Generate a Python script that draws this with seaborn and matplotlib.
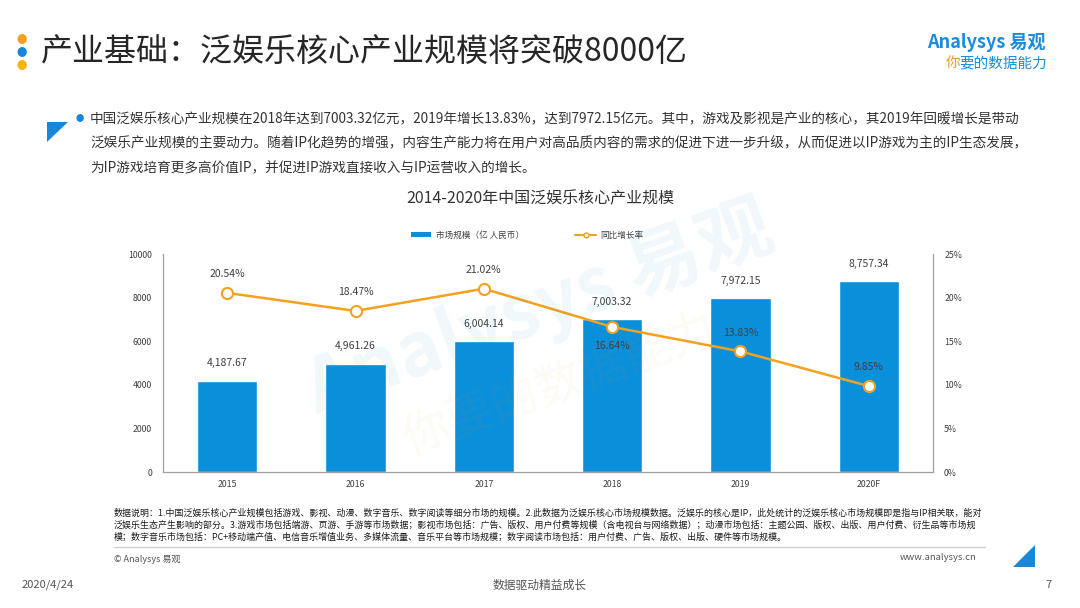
import matplotlib
matplotlib.use("Agg")
import matplotlib.pyplot as plt
import seaborn as sns
import pandas as pd
from matplotlib.patches import Polygon, Patch
from matplotlib.lines import Line2D

years = ['2015', '2016', '2017', '2018', '2019', '2020F']
market = [4187.67, 4961.26, 6004.14, 7003.32, 7972.15, 8757.34]
growth = [20.54, 18.47, 21.02, 16.64, 13.83, 9.85]
growth_label_below = [False, False, False, True, False, False]
left_ticks = [0, 2000, 4000, 6000, 8000, 10000]
right_ticks = [0, 5, 10, 15, 20, 25]

BLUE = '#0A8FDA'
ORANGE = '#F5A01E'
TXT = '#404040'

sns.set_theme(style='white')
plt.rcParams['font.family'] = ['Noto Sans CJK SC', 'DejaVu Sans']

df = pd.DataFrame({'year': years, 'market': market, 'growth': growth})

fig = plt.figure(figsize=(10.8, 6.08), dpi=100)
W, H = 1080, 608

def fx(x):
    return x / W

def fy(y):
    return 1 - y / H

ax = fig.add_axes([fx(163), fy(472), fx(933 - 163), (472 - 254) / H])
sns.barplot(data=df, x='year', y='market', color=BLUE, width=0.47,
            saturation=1, ax=ax)
ax.set_ylim(0, 10000)
ax.set_xlim(-0.5, len(years) - 0.5)
ax.set_yticks(left_ticks)
ax.set_yticklabels([str(t) for t in left_ticks], fontsize=6.3, color=TXT)
ax.tick_params(axis='x', labelsize=6.3, colors=TXT, length=0, pad=6)
ax.tick_params(axis='y', length=0, pad=8)
ax.set_xlabel('')
ax.set_ylabel('')
for s in ['top', 'right']:
    ax.spines[s].set_visible(False)
for s in ['left', 'bottom']:
    ax.spines[s].set_color('#A0A0A0')
    ax.spines[s].set_linewidth(0.9)

for i, v in enumerate(market):
    ax.annotate(f'{v:,.2f}', (i, v), xytext=(0, 9), textcoords='offset points',
                ha='center', va='bottom', fontsize=7.5, color=TXT)

ax2 = ax.twinx()
sns.pointplot(data=df, x='year', y='growth', color=ORANGE, errorbar=None,
              markers='o', linestyles='-', ax=ax2,
              markerfacecolor='white', markeredgecolor=ORANGE,
              markersize=8, markeredgewidth=1.5, linewidth=1.8)
ax2.set_ylim(0, 25)
ax2.set_xlim(-0.5, len(years) - 0.5)
ax2.set_yticks(right_ticks)
ax2.set_yticklabels([f'{t}%' for t in right_ticks], fontsize=6.3, color=TXT)
ax2.tick_params(axis='y', length=0, pad=8)
ax2.set_ylabel('')
ax2.set_xlabel('')
for s in ['top', 'left', 'bottom']:
    ax2.spines[s].set_visible(False)
ax2.spines['right'].set_color('#A0A0A0')
ax2.spines['right'].set_linewidth(0.9)

for i, (g, below) in enumerate(zip(growth, growth_label_below)):
    off = -10 if below else 10
    ax2.annotate(f'{g:.2f}%', (i, g), xytext=(0, off), textcoords='offset points',
                 ha='center', va='top' if below else 'bottom',
                 fontsize=7.5, color=TXT)

# watermark
fig.text(fx(540), fy(310), 'Analysys 易观', fontsize=54, color=BLUE, alpha=0.06,
         rotation=20, ha='center', va='center', fontweight='bold')
fig.text(fx(560), fy(385), '你要的数据能力', fontsize=34, color='#F5A01E', alpha=0.05,
         rotation=20, ha='center', va='center')

# chart title and legend
fig.text(0.5, fy(199), '2014-2020年中国泛娱乐核心产业规模', ha='center', va='center',
         fontsize=11.5, color='#333333')
handles = [Patch(facecolor=BLUE, edgecolor='none'),
           Line2D([0], [0], color=ORANGE, lw=1.5, marker='o', markersize=3.5,
                  markerfacecolor='white', markeredgecolor=ORANGE)]
fig.legend(handles, ['市场规模（亿 人民币）', '同比增长率'], loc='center',
           bbox_to_anchor=(fx(527), fy(235)), ncol=2, frameon=False,
           fontsize=6.2, handlelength=2.4, handleheight=0.6, columnspacing=6.0,
           handletextpad=0.5, labelcolor=TXT)

# header
for yy, c in [(40, '#F5A01E'), (53, '#1A86D8'), (66, '#F5B400')]:
    fig.text(fx(22), fy(yy), '●', fontsize=7.5, color=c, ha='center', va='center')
fig.text(fx(41), fy(52), '产业基础：泛娱乐核心产业规模将突破8000亿', fontsize=23,
         color='#262626', ha='left', va='center', fontweight='light')
fig.text(fx(1046), fy(42), 'Analysys 易观', fontsize=13, color='#1A8CDB',
         ha='right', va='center', fontweight='bold')
fig.text(fx(1047), fy(63), '要的数据能力', fontsize=10.5, color='#1A8CDB',
         ha='right', va='center')
fig.text(fx(960), fy(63), '你', fontsize=10.5, color='#F39A1E',
         ha='right', va='center')

# paragraph
fig.patches.append(Polygon([(fx(47), fy(122)), (fx(68), fy(122)), (fx(47), fy(142))],
                           closed=True, transform=fig.transFigure,
                           facecolor='#1A86D8', edgecolor='none'))
fig.text(fx(80), fy(119), '●', fontsize=6, color='#1A86D8', ha='center', va='center')
para = ['中国泛娱乐核心产业规模在2018年达到7003.32亿元，2019年增长13.83%，达到7972.15亿元。其中，游戏及影视是产业的核心，其2019年回暖增长是带动',
        '泛娱乐产业规模的主要动力。随着IP化趋势的增强，内容生产能力将在用户对高品质内容的需求的促进下进一步升级，从而促进以IP游戏为主的IP生态发展，',
        '为IP游戏培育更多高价值IP，并促进IP游戏直接收入与IP运营收入的增长。']
for k, line in enumerate(para):
    fig.text(fx(90), fy(119 + 24.5 * k), line, fontsize=9.8, color='#333333',
             ha='left', va='center')

# notes
notes = ['数据说明：1.中国泛娱乐核心产业规模包括游戏、影视、动漫、数字音乐、数字阅读等细分市场的规模。2.此数据为泛娱乐核心市场规模数据。泛娱乐的核心是IP，此处统计的泛娱乐核心市场规模即是指与IP相关联，能对',
         '泛娱乐生态产生影响的部分。3.游戏市场包括端游、页游、手游等市场数据；影视市场包括：广告、版权、用户付费等规模（含电视台与网络数据）；动漫市场包括：主题公园、版权、出版、用户付费、衍生品等市场规',
         '模；数字音乐市场包括：PC+移动端产值、电信音乐增值业务、多媒体流量、音乐平台等市场规模；数字阅读市场包括：用户付费、广告、版权、出版、硬件等市场规模。']
for k, line in enumerate(notes):
    fig.text(fx(114), fy(513 + 12 * k), line, fontsize=6.45, color='#1a1a1a',
             ha='left', va='center')

fig.add_artist(Line2D([fx(114), fx(985)], [fy(547), fy(547)], color='#D0D0D0',
                      lw=1, transform=fig.transFigure))
fig.text(fx(114), fy(559), '© Analysys 易观', fontsize=6.5, color='#555555',
         ha='left', va='center')
fig.text(fx(976), fy(557), 'www.analysys.cn', fontsize=6.8, color='#555555',
         ha='right', va='center')
fig.patches.append(Polygon([(fx(1013), fy(567)), (fx(1035), fy(567)), (fx(1035), fy(545))],
                           closed=True, transform=fig.transFigure,
                           facecolor='#1A86D8', edgecolor='none'))
fig.text(fx(22), fy(585), '2020/4/24', fontsize=8, color='#555555', ha='left', va='center')
fig.text(0.5, fy(585), '数据驱动精益成长', fontsize=8.5, color='#555555', ha='center', va='center')
fig.text(fx(1052), fy(585), '7', fontsize=8, color='#555555', ha='right', va='center')

fig.savefig('out.png', dpi=100)
